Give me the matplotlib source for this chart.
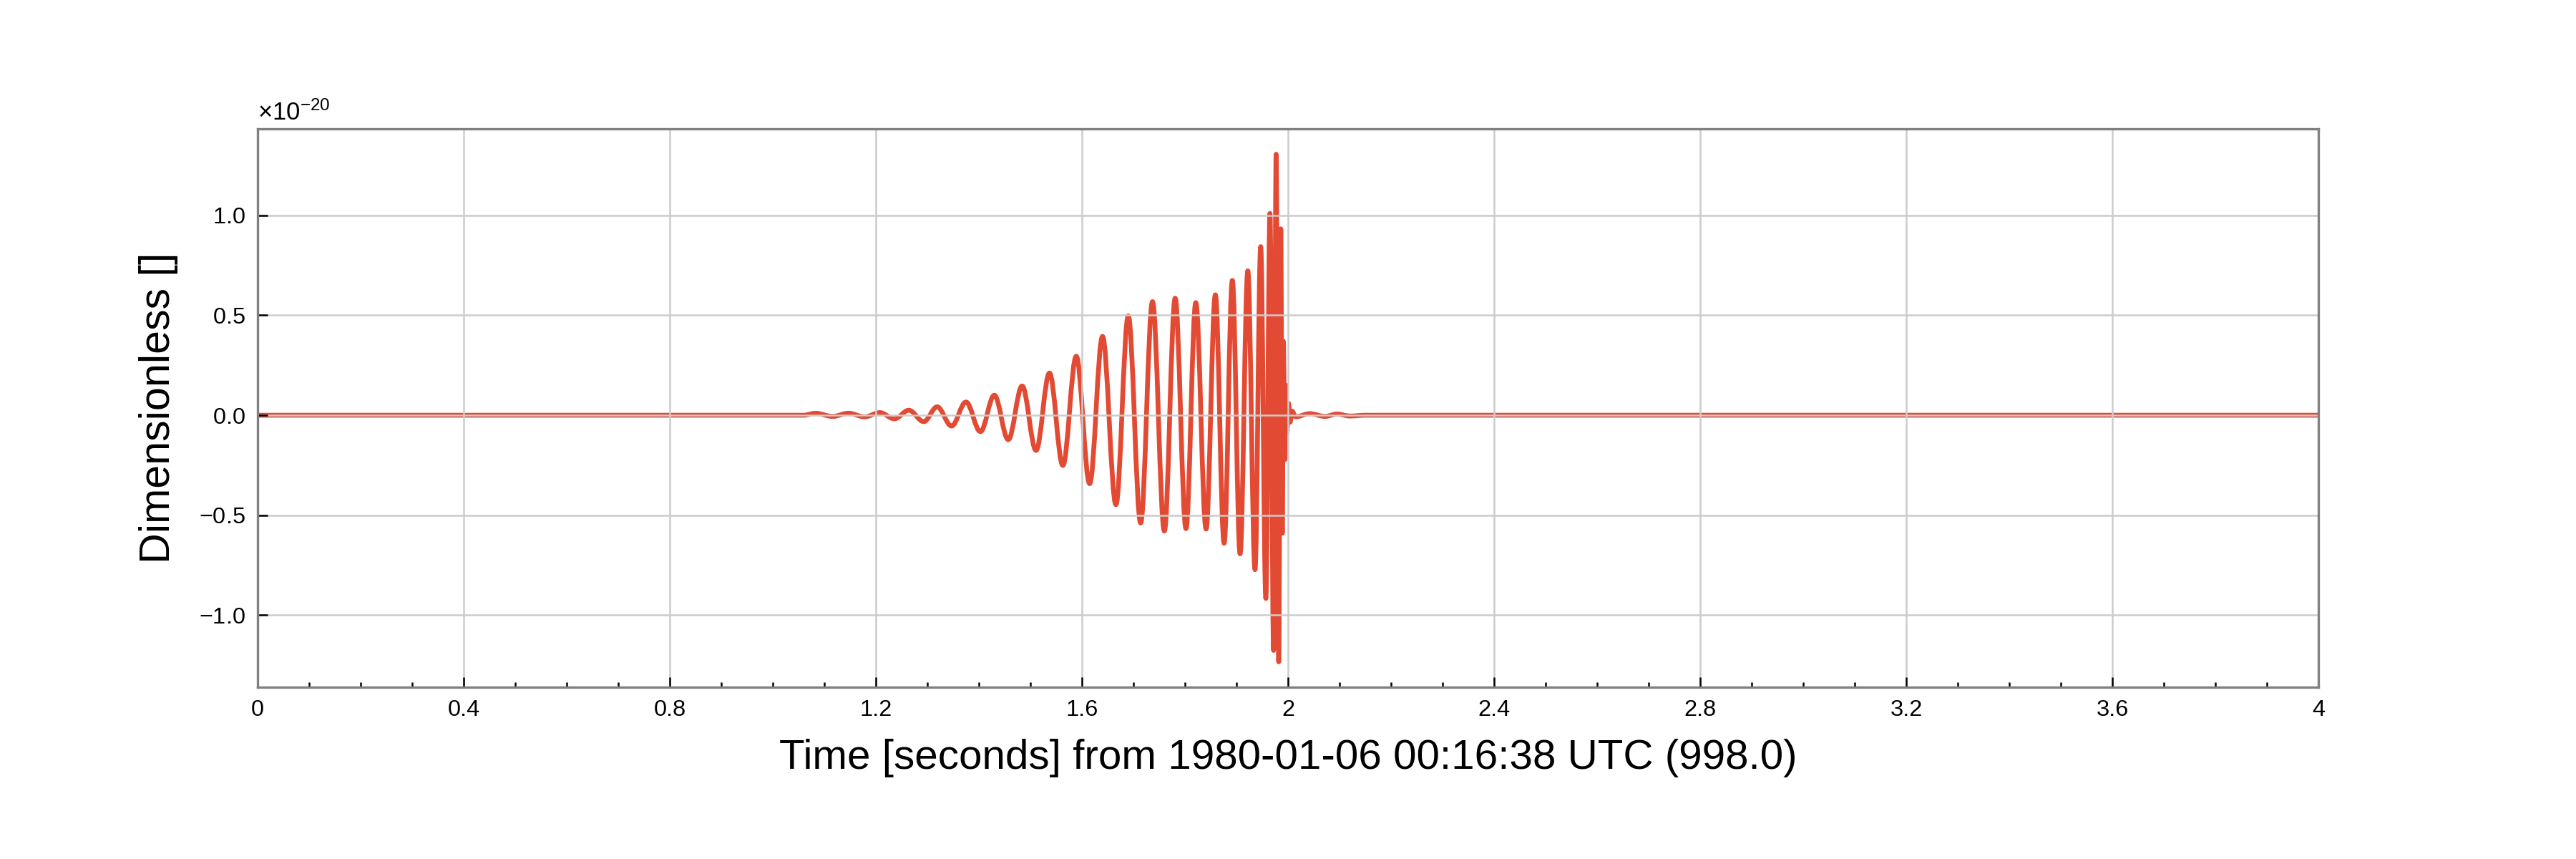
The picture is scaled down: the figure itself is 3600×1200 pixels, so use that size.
import numpy as np
import matplotlib
matplotlib.use("Agg")
import matplotlib.pyplot as plt
from matplotlib.path import Path
from matplotlib.patches import PathPatch
from matplotlib.ticker import MultipleLocator, AutoMinorLocator, ScalarFormatter, FuncFormatter

plt.rcParams['font.family'] = ['Liberation Sans', 'DejaVu Sans']
plt.rcParams['mathtext.fontset'] = 'custom'
plt.rcParams['mathtext.rm'] = 'Liberation Sans'
plt.rcParams['mathtext.it'] = 'Liberation Sans:italic'
plt.rcParams['mathtext.bf'] = 'Liberation Sans:bold'

# extrema of the waveform (time in s, strain in units of 1e-20)
times = [0.0, 1.060, 1.083, 1.116, 1.147, 1.178, 1.208, 1.236, 1.264, 1.293,
         1.319, 1.347, 1.375, 1.403, 1.430, 1.457, 1.484, 1.511, 1.537, 1.563,
         1.589, 1.615, 1.640, 1.666, 1.690, 1.714, 1.737, 1.760, 1.781, 1.802,
         1.821, 1.841, 1.859, 1.876, 1.892, 1.907, 1.922, 1.936, 1.947, 1.957,
         1.965, 1.972, 1.977, 1.982, 1.986, 1.989, 1.991, 1.994, 1.996, 1.998,
         2.001, 2.004, 2.008, 2.015, 2.042, 2.072, 2.095, 2.120, 2.150, 4.0]
strain = [0.0, 0.0, 0.010, -0.006, 0.010, -0.008, 0.013, -0.018, 0.025, -0.032,
          0.042, -0.054, 0.066, -0.082, 0.100, -0.122, 0.146, -0.176, 0.211, -0.251,
          0.295, -0.342, 0.394, -0.447, 0.497, -0.539, 0.568, -0.579, 0.585, -0.567,
          0.563, -0.569, 0.602, -0.640, 0.674, -0.693, 0.722, -0.772, 0.843, -0.916,
          1.009, -1.176, 1.305, -1.233, 0.932, -0.590, 0.370, -0.222, 0.150, -0.085,
          0.060, -0.035, 0.020, -0.008, 0.008, -0.006, 0.006, -0.004, 0.0, 0.0]
scale = 1e-20

xlabel = 'Time [seconds] from 1980-01-06 00:16:38 UTC (998.0)'
ylabel = 'Dimensionless []'
line_color = '#e24a33'

t = np.array(times)
h = np.array(strain) * scale

# smooth curve through the extrema (flat tangent at each turning point)
k = 0.3642
verts = [(t[0], h[0])]
codes = [Path.MOVETO]
for i in range(len(t) - 1):
    dt = t[i + 1] - t[i]
    verts += [(t[i] + k * dt, h[i]), (t[i + 1] - k * dt, h[i + 1]), (t[i + 1], h[i + 1])]
    codes += [Path.CURVE4] * 3

fig = plt.figure(figsize=(12, 4), dpi=300)
ax = fig.add_axes([0.1, 0.2, 0.8, 0.65])

patch = PathPatch(Path(verts, codes), facecolor='none', edgecolor=line_color,
                  linewidth=1.6, capstyle='round', joinstyle='round')
ax.add_patch(patch)
ax.autoscale_view()
ax.set_xlim(0, 4)

ax.xaxis.set_major_locator(MultipleLocator(0.4))
ax.xaxis.set_minor_locator(AutoMinorLocator(4))
ax.xaxis.set_major_formatter(FuncFormatter(lambda v, _: '%g' % round(v, 6)))
ax.yaxis.set_major_locator(MultipleLocator(0.5e-20))
ax.yaxis.set_major_formatter(ScalarFormatter(useMathText=True))

ax.grid(True, which='major', color='#cccccc', linewidth=0.6)
ax.tick_params(which='both', direction='in', top=False, right=False,
               width=0.6, labelsize=7.8, pad=4)
ax.tick_params(which='major', length=3.4)
ax.tick_params(which='minor', length=1.8)
ax.yaxis.get_offset_text().set_fontsize(8.3)

for sp in ax.spines.values():
    sp.set_color('#808080')
    sp.set_linewidth(0.8)

ax.set_xlabel(xlabel, fontsize=14, labelpad=6)
ax.set_ylabel(ylabel, fontsize=14.2, labelpad=7)

fig.savefig('out.png', dpi=300)
